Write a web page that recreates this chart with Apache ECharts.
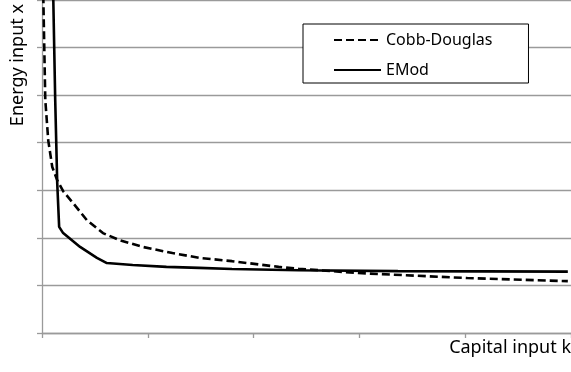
<!DOCTYPE html>
<html>
<head>
<meta charset="utf-8">
<script src="https://cdn.jsdelivr.net/npm/echarts@6/dist/echarts.min.js"></script>
<style>
  html, body { margin: 0; padding: 0; background: #fff; }
  #chart { width: 571px; height: 372px; }
</style>
</head>
<body>
<div id="chart"></div>
<script>
// capital input k / energy input x
const cobbK = [0.012, 0.031, 0.059, 0.097, 0.144, 0.2, 0.294, 0.425, 0.576, 0.735, 0.951, 1.233, 1.486, 1.796, 2.237, 2.425, 2.989, 4.02, 4.97];
const cobbX = [7.1, 4.9, 4.05, 3.49, 3.21, 2.98, 2.73, 2.37, 2.10, 1.95, 1.81, 1.68, 1.58, 1.51, 1.39, 1.35, 1.26, 1.155, 1.09];

const emodK = [0.106, 0.125, 0.144, 0.162, 0.2, 0.36, 0.519, 0.613, 0.857, 1.176, 1.486, 1.796, 2.425, 3.364, 4.97];
const emodX = [7.1, 4.89, 3.15, 2.23, 2.10, 1.81, 1.58, 1.47, 1.43, 1.39, 1.37, 1.345, 1.32, 1.30, 1.29];

const seriesNames = ['Cobb-Douglas', 'EMod'];

const chart = echarts.init(document.getElementById('chart'));
const gray = '#9a9a9a';
const font = '"Noto Sans", sans-serif';

const option = {
    animation: false,
    grid: { left: 42, top: 0, width: 532, height: 333, containLabel: false },
    legend: {
        data: seriesNames,
        orient: 'vertical',
        left: 303,
        top: 24,
        padding: [8, 36, 5, 30],
        itemWidth: 47,
        itemHeight: 14,
        itemGap: 14,
        borderColor: '#000',
        borderWidth: 1,
        backgroundColor: '#fff',
        itemStyle: { opacity: 0 },
        textStyle: { fontFamily: font, fontSize: 16, color: '#000' }
    },
    xAxis: {
        type: 'value',
        min: 0, max: 5, interval: 1,
        axisLine: { show: true, onZero: false, lineStyle: { color: gray, width: 1.3 } },
        axisTick: { show: true, length: 5, lineStyle: { color: gray, width: 1.3 } },
        axisLabel: { show: false },
        splitLine: { show: false }
    },
    yAxis: {
        type: 'value',
        min: 0, max: 7, interval: 1,
        axisLine: { show: true, onZero: false, lineStyle: { color: gray, width: 1.3 } },
        axisTick: { show: true, length: 5, lineStyle: { color: gray, width: 1.3 } },
        axisLabel: { show: false },
        splitLine: { show: true, lineStyle: { color: gray, width: 1.3 } }
    },
    graphic: [
        {
            type: 'text', left: 9, top: 4,
            rotation: Math.PI / 2,
            style: { text: 'Energy input x', font: '18px "Noto Sans", sans-serif', fill: '#000' }
        },
        {
            type: 'text', right: 0, top: 339,
            style: { text: 'Capital input k', font: '18px "Noto Sans", sans-serif', fill: '#000' }
        }
    ],
    series: [
        {
            name: seriesNames[0],
            type: 'line',
            data: cobbK.map((k, i) => [k, cobbX[i]]),
            showSymbol: false, symbol: 'none',
            clip: true,
            lineStyle: { color: '#000', width: 2.6, type: [8, 4] },
            itemStyle: { color: '#000' },
            z: 3
        },
        {
            name: seriesNames[1],
            type: 'line',
            data: emodK.map((k, i) => [k, emodX[i]]),
            showSymbol: false, symbol: 'none',
            clip: true,
            lineStyle: { color: '#000', width: 2.6 },
            itemStyle: { color: '#000' },
            z: 4
        }
    ]
};

chart.setOption(option);
</script>
</body>
</html>
